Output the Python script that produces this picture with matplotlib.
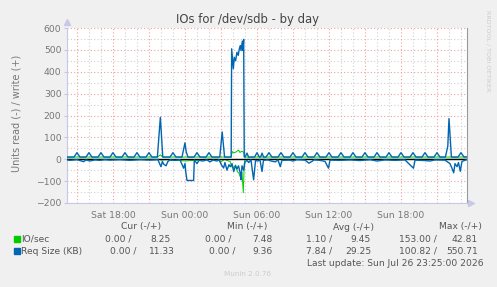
import matplotlib
matplotlib.use("Agg")
import matplotlib.pyplot as plt
from matplotlib.patches import Rectangle

# ==========================
# DATA (hours relative to Sun 00:00)
# ==========================

# Req Size (KB), write side (+)
req_write = [
    (-9.83, 10),
    (-9.25, 10), (-9.0, 30), (-8.75, 10),
    (-8.25, 10), (-8.0, 30), (-7.75, 10),
    (-7.25, 10), (-7.0, 30), (-6.75, 10),
    (-6.25, 10), (-6.0, 30), (-5.75, 10),
    (-5.25, 10), (-5.0, 30), (-4.75, 10),
    (-4.25, 10), (-4.0, 30), (-3.75, 10),
    (-3.25, 10), (-3.0, 30), (-2.75, 10),
    (-2.3, 10), (-2.05, 192), (-1.85, 10),
    (-1.25, 10), (-1.0, 30), (-0.75, 10),
    (-0.25, 10), (0.0, 75), (0.1, 35), (0.25, 10),
    (0.75, 10), (1.0, 30), (1.25, 10),
    (1.75, 10), (2.0, 30), (2.25, 10),
    (2.9, 10), (3.1, 125), (3.3, 10),
    (3.85, 10), (3.89, 505), (4.03, 414), (4.11, 466), (4.22, 450),
    (4.33, 489), (4.44, 475), (4.53, 505), (4.61, 520), (4.67, 497),
    (4.78, 540), (4.83, 497), (4.89, 548), (4.94, 10),
    (5.0, 10), (5.17, 28), (5.3, 10),
    (5.8, 10), (6.0, 30), (6.2, 10),
    (6.3, 10), (6.42, 28), (6.55, 10),
    (6.75, 10), (7.0, 30), (7.25, 10),
    (7.75, 10), (8.0, 30), (8.25, 10),
    (8.75, 10), (9.0, 30), (9.25, 10),
    (9.75, 10), (10.0, 30), (10.25, 10),
    (10.75, 10), (11.0, 30), (11.25, 10),
    (11.75, 10), (12.0, 30), (12.25, 10),
    (12.75, 10), (13.0, 30), (13.25, 10),
    (13.75, 10), (14.0, 30), (14.25, 10),
    (14.75, 10), (15.0, 30), (15.25, 10),
    (15.75, 10), (16.0, 30), (16.25, 10),
    (16.75, 10), (17.0, 30), (17.25, 10),
    (17.75, 10), (18.0, 30), (18.25, 10),
    (18.75, 10), (19.0, 30), (19.25, 10),
    (19.75, 10), (20.0, 30), (20.25, 10),
    (20.75, 10), (21.0, 30), (21.25, 10),
    (21.7, 10), (21.9, 60), (22.0, 186), (22.2, 10),
    (22.75, 10), (23.0, 30), (23.25, 10),
    (23.5, 11),
]

# Req Size (KB), read side (-)
req_read = [
    (-9.83, -3), (-9.58, -5), (-9.0, -2), (-8.44, -11), (-8.25, -3),
    (-7.92, -8), (-7.5, -3), (-7.08, -5), (-6.67, -2), (-6.25, -4),
    (-5.42, -2), (-4.58, -5), (-3.75, -2), (-2.92, -4), (-2.25, -2),
    (-2.08, -25), (-2.0, -34), (-1.88, -10), (-1.78, -22), (-1.58, -30),
    (-1.42, -10), (-1.25, -3), (-0.83, -5), (-0.42, -2), (-0.11, -41),
    (0.0, -20), (0.08, -64), (0.17, -97), (0.72, -97), (0.78, -3),
    (1.0, -20), (1.17, -5), (1.5, -8), (1.83, -3), (2.08, -12),
    (2.33, -4), (2.67, -8), (2.83, -2), (3.03, -25), (3.22, -40),
    (3.33, -15), (3.5, -50), (3.67, -25), (3.78, -34), (3.92, -20),
    (4.06, -56), (4.21, -30), (4.33, -45), (4.46, -30), (4.61, -64),
    (4.67, -94), (4.75, -30), (4.89, -50), (5.0, -12), (5.17, -5),
    (5.31, -15), (5.5, -3), (5.72, -94), (5.88, -5), (6.08, -8),
    (6.25, -3), (6.42, -56), (6.54, -5), (6.92, -3), (7.17, -8),
    (7.53, -12), (7.75, -3), (7.94, -34), (8.08, -5), (8.75, -4),
    (9.0, -8), (9.33, -2), (10.0, -4), (10.33, -18), (10.58, -10),
    (10.75, -3), (11.25, -5), (11.67, -10), (11.96, -41), (12.08, -4),
    (12.92, -5), (13.75, -3), (14.58, -6), (15.42, -2), (16.0, -8),
    (16.67, -3), (17.5, -5), (18.33, -3), (19.04, -41), (19.17, -4),
    (20.0, -6), (20.42, -8), (20.83, -3), (21.67, -4), (22.08, -20),
    (22.25, -41), (22.39, -62), (22.5, -20), (22.67, -34), (22.79, -15),
    (22.94, -55), (23.08, -10), (23.42, -3), (23.5, -2),
]

# IO/sec, write side (+)
io_write = [
    (-9.83, 10), (-2.3, 10), (-2.05, 20), (-1.85, 10),
    (3.85, 10), (3.89, 24), (3.97, 35),
    (4.06, 29), (4.15, 31), (4.25, 33), (4.36, 38), (4.47, 42),
    (4.58, 31), (4.69, 35), (4.8, 36), (4.9, 30), (4.97, 10),
    (23.5, 10),
]

# IO/sec, read side (-)
io_read = [
    (-9.83, 0), (-2.2, 0), (-2.0, -4), (-1.5, -2),
    (-1.1, -6), (-0.5, -5), (0.0, -8), (0.5, -6), (1.1, -5),
    (1.6, 0), (2.8, 0), (3.0, -11), (3.3, -1), (3.78, -11),
    (3.89, -34), (4.03, -41), (4.22, -26), (4.36, -56), (4.5, -64),
    (4.64, -86), (4.75, -60), (4.86, -153), (4.94, -20), (5.0, 0),
    (23.5, 0),
]

# legend statistics: read / write
stat_names = ["Cur (-/+)", "Min (-/+)", "Avg (-/+)", "Max (-/+)"]
io_stats = [(0.00, 8.25), (0.00, 7.48), (1.10, 9.45), (153.00, 42.81)]
req_stats = [(0.00, 11.33), (0.00, 9.36), (7.84, 29.25), (100.82, 550.71)]

x_tick_hours = [-6, 0, 6, 12, 18]
x_tick_labels = ["Sat 18:00", "Sun 00:00", "Sun 06:00", "Sun 12:00", "Sun 18:00"]
x_major_hours = [-9, -6, -3, 0, 3, 6, 9, 12, 15, 18, 21]
x_minor_hours = list(range(-9, 24))
y_ticks = [-200, -100, 0, 100, 200, 300, 400, 500, 600]
y_minor = [-150, -50, 50, 150, 250, 350, 450, 550]

GREEN = "#00cc00"
BLUE = "#0066b3"
TEXT = "#555555"

W, H = 497, 287


def fx(px):
    return px / W


def fy(py):
    return 1 - py / H


# ==========================
# FIGURE
# ==========================

fig = plt.figure(figsize=(W / 100, H / 100), dpi=100)
fig.patch.set_facecolor("#f0f0f0")

ax = fig.add_axes([fx(67), fy(203), fx(467) - fx(67), fy(28) - fy(203)])
ax.set_facecolor("white")
ax.set_xlim(-9.83, 23.5)
ax.set_ylim(-200, 600)

# grid
for h in x_minor_hours:
    if h not in x_major_hours:
        ax.axvline(h, color="#d0d0d0", linestyle=(0, (1, 2)), linewidth=0.8, zorder=1)
for v in y_minor:
    ax.axhline(v, color="#d0d0d0", linestyle=(0, (1, 2)), linewidth=0.8, zorder=1)
for h in x_major_hours:
    ax.axvline(h, color="#f0a0a0", linestyle=(0, (1, 2)), linewidth=0.8, zorder=1)
for v in y_ticks:
    ax.axhline(v, color="#f0a0a0", linestyle=(0, (1, 2)), linewidth=0.8, zorder=1)

# series
for data in [io_read, io_write]:
    t, v = zip(*data)
    ax.plot(t, v, color=GREEN, linewidth=0.7, zorder=3)

ax.axhline(0, color="black", linewidth=1.0, zorder=4)

for data in [req_read, req_write]:
    t, v = zip(*data)
    ax.plot(t, v, color=BLUE, linewidth=1.0, zorder=5)

# axes
ax.spines["top"].set_visible(False)
ax.spines["left"].set_color("#c8c8e8")
ax.spines["bottom"].set_color("#c8c8e8")
ax.spines["right"].set_color("#999999")
ax.plot([0], [1.035], marker="^", color="#c8c8e8", markersize=4,
        transform=ax.transAxes, clip_on=False)
ax.plot([1.01], [0], marker=">", color="#c8c8e8", markersize=4,
        transform=ax.transAxes, clip_on=False)

ax.set_xticks(x_tick_hours)
ax.set_xticklabels(x_tick_labels)
ax.set_yticks(y_ticks)
ax.tick_params(axis="both", length=2, color="#c8c8e8", labelsize=6.7,
               labelcolor="#777777", pad=2)
ax.tick_params(axis="x", length=0, pad=6)

ax.set_ylabel("Units read (-) / write (+)", fontsize=7, color="#777777")
ax.yaxis.set_label_coords(fx(10) - fx(67), (fy(113) - fy(203)) / (fy(28) - fy(203)))

# ==========================
# TEXTS
# ==========================

fig.text(fx(248), fy(20), "IOs for /dev/sdb - by day", ha="center", va="center",
         fontsize=8.4, color="#444444")
fig.text(fx(488), fy(51), "RRDTOOL / TOBI OETIKER", ha="center", va="center",
         rotation=270, fontsize=4.6, color="#cccccc")

header_x = [120.7, 226.7, 333.3, 439.3]
for name, x in zip(stat_names, header_x):
    fig.text(fx(x), fy(227), name, va="center", fontsize=6.6, color=TEXT)

rows = [
    ("IO/sec", GREEN, io_stats, 239, [105, 205, 305.7, 399.3], [150, 252.7, 350, 452]),
    ("Req Size (KB)", BLUE, req_stats, 251, [110, 209.3, 305.7, 399.3], [149, 252.7, 345, 446.7]),
]
for label, color, stats, y, xr, xw in rows:
    fig.patches.append(Rectangle((fx(14), fy(y + 3)), fx(6), fy(0) - fy(6),
                                 transform=fig.transFigure, color=color))
    fig.text(fx(20.7), fy(y), label, va="center", fontsize=6.6, color=TEXT)
    for (r, w), a, b in zip(stats, xr, xw):
        fig.text(fx(a), fy(y), "%.2f /" % r, va="center", fontsize=6.6, color=TEXT)
        fig.text(fx(b), fy(y), "%.2f" % w, va="center", fontsize=6.6, color=TEXT)

fig.text(fx(307.3), fy(263), "Last update: Sun Jul 26 23:25:00 2026", va="center",
         fontsize=6.6, color=TEXT)
fig.text(fx(248), fy(274), "Munin 2.0.76", ha="center", va="center",
         fontsize=5.2, color="#cccccc")

plt.savefig("out.png", dpi=100, facecolor=fig.get_facecolor())
